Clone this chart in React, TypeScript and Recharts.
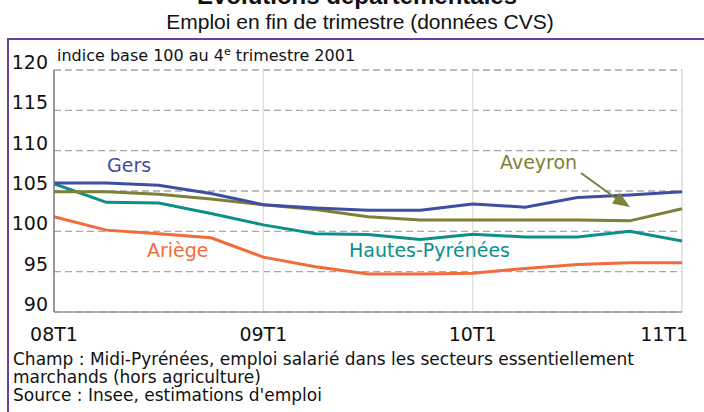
import { LineChart, Line, XAxis, YAxis, CartesianGrid, ReferenceLine } from "recharts";

// trimestres 2008T1 -> 2011T1
const quarters = ["08T1", "08T2", "08T3", "08T4", "09T1", "09T2", "09T3", "09T4", "10T1", "10T2", "10T3", "10T4", "11T1"];
const gers = [106.0, 106.0, 105.7, 104.7, 103.3, 102.9, 102.6, 102.6, 103.4, 103.0, 104.2, 104.5, 104.9];
const aveyron = [104.9, 104.9, 104.6, 104.0, 103.3, 102.7, 101.8, 101.4, 101.4, 101.4, 101.4, 101.3, 102.8];
const hautesPyrenees = [105.9, 103.6, 103.5, 102.2, 100.8, 99.7, 99.6, 99.0, 99.65, 99.3, 99.3, 100.0, 98.8];
const ariege = [101.8, 100.15, 99.7, 99.2, 96.8, 95.6, 94.7, 94.7, 94.8, 95.4, 95.9, 96.1, 96.1];

const xTicks = [0, 4, 8, 12];
const yTicks = [90, 95, 100, 105, 110, 115, 120];

const COLORS = {
  gers: "#3e4ea2",
  aveyron: "#7f7f36",
  hautes: "#0d8f89",
  ariege: "#f36b3b",
  frame: "#6a3e9e",
};

const FONT = "'DejaVu Sans', Verdana, sans-serif";

const data = quarters.map((q, i) => ({
  x: i,
  q,
  gers: gers[i],
  aveyron: aveyron[i],
  hautes: hautesPyrenees[i],
  ariege: ariege[i],
}));

function XTick(props: any) {
  const { x, payload } = props;
  const i = payload.value as number;
  const last = i === quarters.length - 1;
  return (
    <text
      x={last ? x + 6 : x}
      y={341}
      textAnchor={last ? "end" : "middle"}
      fontFamily={FONT}
      fontSize={19}
      fill="#111"
    >
      {quarters[i]}
    </text>
  );
}

function YTick(props: any) {
  const { x, y, payload } = props;
  return (
    <text x={x + 2} y={y - 1} textAnchor="end" fontFamily={FONT} fontSize={19} fill="#111">
      {payload.value}
    </text>
  );
}

export default function App() {
  return (
    <div style={{ position: "absolute", left: 0, top: 0, width: 704, height: 412, background: "#fff", overflow: "hidden" }}>
      <LineChart width={704} height={412} data={data} margin={{ top: 70, right: 22, bottom: 70, left: 0 }}>
        <CartesianGrid horizontal vertical={false} stroke="#a8a8a8" strokeDasharray="7 4" strokeWidth={1.3} />
        <ReferenceLine x={4} stroke="#dcdcdc" strokeWidth={1.2} />
        <ReferenceLine x={8} stroke="#dcdcdc" strokeWidth={1.2} />
        <ReferenceLine x={12} stroke="#d4d4d4" strokeWidth={1.2} />
        <XAxis
          dataKey="x"
          type="number"
          height={30}
          domain={[0, 12]}
          ticks={xTicks}
          tickLine={false}
          axisLine={{ stroke: "#9a9a9a", strokeWidth: 1.5 }}
          tick={<XTick />}
          interval={0}
        />
        <YAxis
          width={54}
          domain={[90, 120]}
          ticks={yTicks}
          tickLine={false}
          axisLine={{ stroke: "#777", strokeWidth: 1.5 }}
          tick={<YTick />}
          interval={0}
        />
        <Line dataKey="ariege" stroke={COLORS.ariege} strokeWidth={3} dot={false} isAnimationActive={false} />
        <Line dataKey="hautes" stroke={COLORS.hautes} strokeWidth={3} dot={false} isAnimationActive={false} />
        <Line dataKey="aveyron" stroke={COLORS.aveyron} strokeWidth={3} dot={false} isAnimationActive={false} />
        <Line dataKey="gers" stroke={COLORS.gers} strokeWidth={3} dot={false} isAnimationActive={false} />
      </LineChart>

      <svg width={704} height={412} style={{ position: "absolute", left: 0, top: 0, pointerEvents: "none" }}>
        <text x={357} y={4} textAnchor="middle" fontFamily="'Liberation Sans', Arial, sans-serif" fontWeight="bold" fontSize={24} fill="#111">
          Évolutions départementales
        </text>
        <text x={360} y={29} textAnchor="middle" fontFamily="'Liberation Sans', Arial, sans-serif" fontSize={21} fill="#111">
          Emploi en fin de trimestre (données CVS)
        </text>
        <line x1={8} y1={39} x2={704} y2={39} stroke={COLORS.frame} strokeWidth={2} />
        <line x1={8} y1={38} x2={8} y2={412} stroke={COLORS.frame} strokeWidth={2} />

        <text x={57} y={61} fontFamily={FONT} fontSize={16} fill="#111">
          indice base 100 au 4<tspan dy={-6} fontSize={11}>e</tspan>
          <tspan dy={6}> trimestre 2001</tspan>
        </text>

        <text x={107} y={172} fontFamily={FONT} fontSize={19} fill={COLORS.gers}>Gers</text>
        <text x={147} y={257} fontFamily={FONT} fontSize={19} fill={COLORS.ariege}>Ariège</text>
        <text x={349} y={257} fontFamily={FONT} fontSize={19} fill={COLORS.hautes}>Hautes-Pyrénées</text>
        <text x={500} y={169} fontFamily={FONT} fontSize={19} fill={COLORS.aveyron}>Aveyron</text>
        <line x1={581} y1={173} x2={617} y2={199} stroke={COLORS.aveyron} strokeWidth={2} />
        <polygon points="630,207 612,203.5 619.5,192.5" fill={COLORS.aveyron} />

        <text fontFamily={FONT} fontSize={17} fill="#111">
          <tspan x={13} y={365}>Champ : Midi-Pyrénées, emploi salarié dans les secteurs essentiellement</tspan>
          <tspan x={13} y={383}>marchands (hors agriculture)</tspan>
          <tspan x={13} y={401}>Source : Insee, estimations d'emploi</tspan>
        </text>
      </svg>
    </div>
  );
}
